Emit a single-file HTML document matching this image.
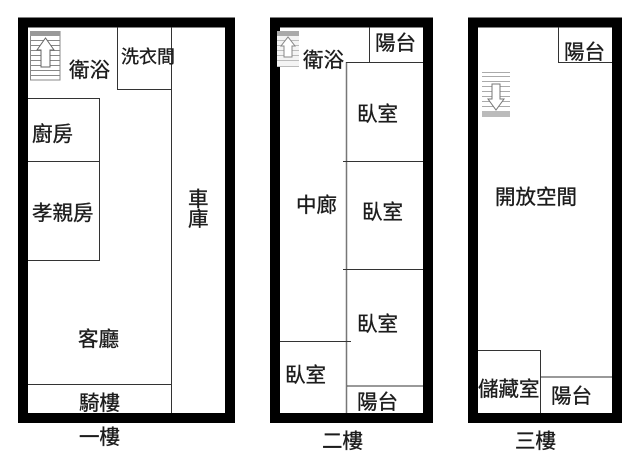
<!DOCTYPE html>
<html><head><meta charset="utf-8"><style>
html,body{margin:0;padding:0;background:#fff;width:640px;height:461px;overflow:hidden}
svg{display:block}
text{font-family:"Liberation Sans","Noto Sans CJK TC",sans-serif;font-size:20.5px;fill:#1c1c1c;stroke:#1c1c1c;stroke-width:.35px}
.l{stroke:#333;stroke-width:1;fill:none}
.g{stroke:#777;stroke-width:1.5;fill:none}
.w{fill:none;stroke:#000;stroke-width:10}
</style></head><body>
<svg width="640" height="461" viewBox="0 0 640 461" xmlns="http://www.w3.org/2000/svg">
<rect x="23" y="22.5" width="207" height="395.5" class="w"/>
<rect x="275" y="22.5" width="153" height="395.5" class="w"/>
<rect x="473" y="22.5" width="144" height="395.5" class="w"/>

<path class="l" d="M117.5 27V89.5H171.5M171.5 27V413M28 98.5H99.5V260.5H28M28 161.5H99.5M28 384.5H171.5"/>
<path class="g" d="M346.5 62V413"/>
<path class="l" d="M369.5 27V62.5M346 62.5H423M343 161.5H423M343 269.5H423M280 341.5H351M347 386H423"/>
<path class="l" d="M558.5 27V62.5H612M478 350.5H540.5V413M541 377H612"/>

<!-- stair 1 -->
<rect x="30.5" y="31.5" width="29.5" height="48.5" fill="#fff" stroke="#888"/>
<rect x="30" y="31" width="30" height="5" fill="#999"/>
<path stroke="#888" d="M30 40.5H60M30 45.5H60M30 50.5H60M30 55.5H60M30 60.5H60M30 65.5H60M30 70.5H60M30 75.5H60"/>
<path d="M41 67V50H37L45.5 38L54 50H50V67Z" fill="#fff" stroke="#666"/>

<!-- stair 2 -->
<rect x="277" y="31" width="22" height="36" fill="#f4f4f4"/>
<rect x="277" y="31" width="22" height="5" fill="#aaa"/>
<path stroke="#bbb" d="M277 40.5H299M277 45.5H299M277 50.5H299M277 55.5H299M277 60.5H299M277 66.5H299"/>
<path d="M284 57V46H281L288 37L295 46H292V57Z" fill="#fff" stroke="#888"/>

<!-- stair 3 -->
<rect x="482" y="72" width="28" height="45" fill="#fff"/>
<rect x="482" y="111" width="28" height="6" fill="#bbb"/>
<path stroke="#aaa" d="M482 72.5H510M482 76.5H510M482 81.5H510M482 86.5H510M482 91.5H510M482 96.5H510M482 101.5H510M482 106.5H510"/>
<path d="M492 84V99H488L496 110L504 99H500V84Z" fill="#fff" stroke="#777"/>

<text x="69" y="77">衛浴</text>
<text x="121" y="63" style="font-size:18px">洗衣間</text>
<text x="32" y="141">廚房</text>
<text x="32" y="220">孝親房</text>
<text x="188" y="206">車</text>
<text x="188" y="226">庫</text>
<text x="78" y="346">客廳</text>
<text x="79" y="410">騎樓</text>
<text x="79" y="444">一樓</text>

<text x="375" y="50">陽台</text>
<text x="303" y="67">衛浴</text>
<text x="357" y="121">臥室</text>
<text x="296" y="212">中廊</text>
<text x="362" y="219">臥室</text>
<text x="357" y="331">臥室</text>
<text x="285" y="382">臥室</text>
<text x="357" y="409">陽台</text>
<text x="322" y="448">二樓</text>

<text x="564" y="59">陽台</text>
<text x="495" y="204">開放空間</text>
<text x="478" y="396">儲藏室</text>
<text x="551" y="403">陽台</text>
<text x="515" y="448">三樓</text>
</svg>
</body></html>
